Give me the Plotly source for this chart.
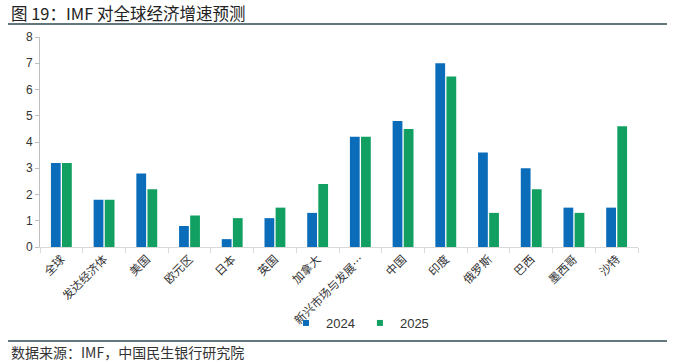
import plotly.graph_objects as go

categories = ["全球", "发达经济体", "美国", "欧元区", "日本", "英国", "加拿大",
              "新兴市场与发展…", "中国", "印度", "俄罗斯", "巴西", "墨西哥", "沙特"]
v2024 = [3.2, 1.8, 2.8, 0.8, 0.3, 1.1, 1.3, 4.2, 4.8, 7.0, 3.6, 3.0, 1.5, 1.5]
v2025 = [3.2, 1.8, 2.2, 1.2, 1.1, 1.5, 2.4, 4.2, 4.5, 6.5, 1.3, 2.2, 1.3, 4.6]
yticks = [0, 1, 2, 3, 4, 5, 6, 7, 8]

BLUE = "#0B6DBA"
GREEN = "#12A062"
FONT = "Noto Sans CJK SC"

L, R, T, B = 40, 38, 37, 117
W, H = 676, 364
PW, PH = W - L - R, H - T - B

fig = go.Figure()
fig.add_bar(x=categories, y=v2024, name="2024", showlegend=False,
            marker=dict(color=BLUE, line=dict(width=0)))
fig.add_bar(x=categories, y=v2025, name="2025", showlegend=False,
            marker=dict(color=GREEN, line=dict(width=0)))
# legend entries with small square markers
fig.add_scatter(x=[None], y=[None], mode="markers", name="2024",
                marker=dict(symbol="square", size=6, color=BLUE))
fig.add_scatter(x=[None], y=[None], mode="markers", name="2025",
                marker=dict(symbol="square", size=6, color=GREEN))

fig.update_layout(
    width=W, height=H,
    margin=dict(l=L, r=R, t=T, b=B, autoexpand=False),
    paper_bgcolor="white", plot_bgcolor="white",
    barmode="group", bargap=0.48, bargroupgap=0.12,
    font=dict(family=FONT, size=11, color="#333333"),
    showlegend=True,
    legend=dict(orientation="h", x=(360 - L) / PW, xanchor="center", y=-76 / PH, yanchor="middle",
                font=dict(family="Arial", size=13, color="#333333"),
                bgcolor="rgba(0,0,0,0)", itemwidth=30, traceorder="normal"),
    xaxis=dict(type="category", showline=True, linecolor="#D9D9D9", linewidth=1,
               ticks="outside", tickson="boundaries", ticklen=5, tickcolor="#D9D9D9",
               tickangle=-45, tickfont=dict(family=FONT, size=11.5, color="#333333"),
               showgrid=False, automargin=False),
    yaxis=dict(range=[0, 8], tickvals=yticks, showline=True, linecolor="#BFBFBF",
               ticks="outside", ticklen=4, tickcolor="#BFBFBF",
               tickfont=dict(family="Arial", size=12, color="#333333"),
               showgrid=False, zeroline=False, automargin=False),
)

fig.add_annotation(text="图 19：IMF 对全球经济增速预测", xref="paper", yref="paper",
                   x=(9 - L) / PW, y=1 + (T - 13) / PH, xanchor="left", yanchor="middle",
                   showarrow=False, font=dict(family=FONT, size=16.5, color="#222222"))
fig.add_shape(type="line", xref="paper", yref="paper", x0=(8 - L) / PW, x1=(667 - L) / PW,
              y0=1 + (T - 24) / PH, y1=1 + (T - 24) / PH, line=dict(color="#2F4A52", width=1.3))
fig.add_shape(type="line", xref="paper", yref="paper", x0=(8 - L) / PW, x1=(667 - L) / PW,
              y0=-(341 - (H - B)) / PH, y1=-(341 - (H - B)) / PH, line=dict(color="#2F4A52", width=1.3))
fig.add_annotation(text="数据来源：IMF，中国民生银行研究院", xref="paper", yref="paper",
                   x=(9 - L) / PW, y=-(352 - (H - B)) / PH, xanchor="left", yanchor="middle",
                   showarrow=False, font=dict(family=FONT, size=14, color="#333333"))

fig.write_html("out.html", config={"displayModeBar": False},
               post_script="document.body.style.margin='0';")
